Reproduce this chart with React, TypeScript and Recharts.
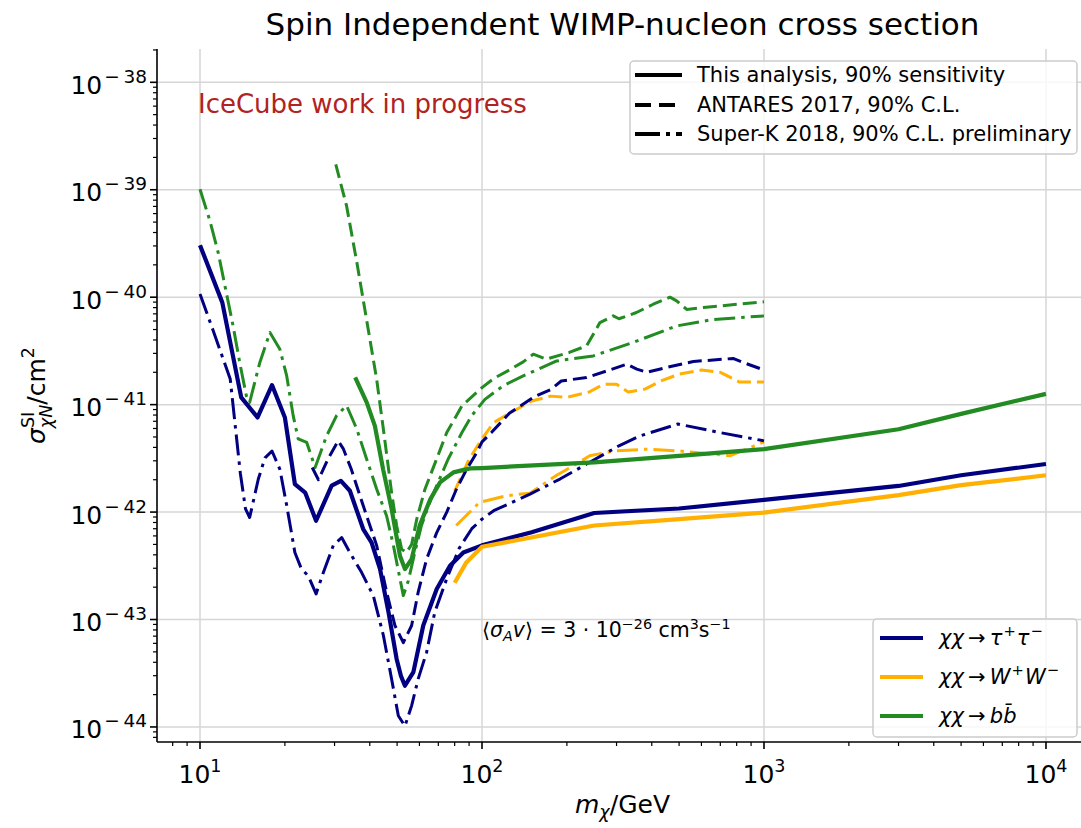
import React from 'react';
import { LineChart, Line, XAxis, YAxis, CartesianGrid } from 'recharts';

// ---------- data (mass in GeV, cross section in cm^2) ----------
const tauSensMass = [10, 12, 14, 16, 18, 20, 21.7, 23.6, 25.8, 29.3, 31.6, 34, 37.9, 40.6, 43.5, 46.6, 49.8, 51.6, 53.3, 57.1, 61.9, 69.1, 77, 85.9, 100, 150, 250, 500, 1000, 3000, 5000, 10000];
const tauSensSigma = [3.05e-40, 8.9e-41, 1.17e-41, 7.6e-42, 1.52e-41, 7.6e-42, 1.82e-42, 1.52e-42, 8.3e-43, 1.76e-42, 1.95e-42, 1.58e-42, 6.95e-43, 5.2e-43, 2.95e-43, 1.17e-43, 4.3e-44, 2.98e-44, 2.42e-44, 3.24e-44, 8.8e-44, 1.92e-43, 3.16e-43, 4.2e-43, 4.9e-43, 6.5e-43, 9.8e-43, 1.08e-42, 1.3e-42, 1.75e-42, 2.2e-42, 2.8e-42];

const tauAntMass = [25, 26.3, 28.4, 30.9, 32.2, 34.4, 37.9, 42.3, 45.9, 49.1, 52.6, 56.3, 59.4, 63.6, 69.1, 75, 81.2, 88.2, 95.9, 100, 108, 125, 152, 176, 191, 235, 277, 326, 354, 385, 452, 562, 777, 843, 1000];
const tauAntSigma = [2.6e-42, 2.0e-42, 3.1e-42, 4.6e-42, 3.9e-42, 2.5e-42, 1.15e-42, 4.9e-43, 1.8e-43, 8.8e-44, 6.1e-44, 8.8e-44, 1.8e-43, 3.65e-43, 6.45e-43, 1.0e-42, 1.64e-42, 2.5e-42, 3.6e-42, 4.5e-42, 5.5e-42, 8.3e-42, 1.17e-41, 1.39e-41, 1.66e-41, 1.79e-41, 2.06e-41, 2.38e-41, 2.14e-41, 2.0e-41, 2.22e-41, 2.52e-41, 2.69e-41, 2.47e-41, 2.1e-41];

const tauSKMass = [10, 11.1, 12.8, 13.9, 14.5, 15, 16.1, 17, 18, 19.2, 20.3, 21.7, 22.9, 24.2, 25.8, 27.4, 29.7, 31.8, 34, 37.4, 41.2, 44.7, 47.8, 50.5, 53.3, 56.3, 59.4, 63.6, 68, 75, 83, 92, 100, 110, 148, 189, 235, 306, 362, 495, 697, 1000];
const tauSKSigma = [1.07e-40, 5.0e-41, 1.73e-41, 2.3e-42, 1.07e-42, 8.9e-43, 2.03e-42, 3.2e-42, 3.7e-42, 2.5e-42, 1.15e-42, 4.2e-43, 2.95e-43, 2.55e-43, 1.73e-43, 2.75e-43, 4.9e-43, 5.8e-43, 4.2e-43, 2.75e-43, 1.66e-43, 7.1e-44, 2.8e-44, 1.27e-44, 1.02e-44, 1.58e-44, 2.8e-44, 4.95e-44, 1.17e-43, 2.4e-43, 4.6e-43, 7.0e-43, 8.6e-43, 1.03e-42, 1.47e-42, 2.03e-42, 2.8e-42, 4.14e-42, 5.1e-42, 6.6e-42, 5.5e-42, 4.6e-42];

const wwSensMass = [80, 88, 100, 250, 500, 1000, 3000, 5000, 10000];
const wwSensSigma = [2.2e-43, 3.4e-43, 4.75e-43, 7.5e-43, 8.6e-43, 9.9e-43, 1.44e-42, 1.78e-42, 2.2e-42];

const wwAntMass = [80, 90, 100, 110, 125, 150, 175, 200, 240, 270, 300, 330, 380, 430, 500, 600, 700, 820, 1000];
const wwAntSigma = [1.57e-42, 3.1e-42, 4.8e-42, 6.8e-42, 8.3e-42, 1.08e-41, 1.2e-41, 1.17e-41, 1.31e-41, 1.55e-41, 1.55e-41, 1.31e-41, 1.4e-41, 1.66e-41, 1.92e-41, 2.1e-41, 2.0e-41, 1.62e-41, 1.62e-41];

const wwSKMass = [81, 98, 122, 148, 184, 211, 241, 292, 383, 504, 660, 756, 867, 1000];
const wwSKSigma = [7.5e-43, 1.23e-42, 1.42e-42, 1.5e-42, 2.2e-42, 2.7e-42, 3.34e-42, 3.7e-42, 3.85e-42, 3.7e-42, 3.46e-42, 3.34e-42, 3.85e-42, 4.5e-42];

const bbSensMass = [35.5, 39, 41.7, 44.6, 47.8, 51.2, 53.3, 56.3, 60.1, 65.6, 71, 79.2, 90.7, 100, 250, 500, 1000, 3000, 5000, 10000];
const bbSensSigma = [1.79e-41, 1.05e-41, 6.35e-42, 2.5e-42, 1.07e-42, 3.9e-43, 2.95e-43, 3.65e-43, 7.5e-43, 1.32e-42, 1.89e-42, 2.34e-42, 2.55e-42, 2.57e-42, 2.9e-42, 3.34e-42, 3.85e-42, 5.9e-42, 8.2e-42, 1.26e-41];

const bbAntMass = [30.3, 33.1, 36, 39.5, 42.3, 44.7, 47.8, 49.8, 51.9, 54, 56.3, 58.7, 62.8, 68.3, 75, 84.9, 100, 110, 125, 140, 152, 169, 204, 235, 262, 292, 306, 353, 405, 464, 490, 532, 610, 800, 1000];
const bbAntSigma = [1.72e-39, 7.06e-40, 2.1e-40, 5.0e-41, 1.73e-41, 5.9e-42, 1.52e-42, 7.5e-43, 4.5e-43, 4.2e-43, 5.0e-43, 8.6e-43, 1.64e-42, 2.9e-42, 5.5e-42, 9.75e-42, 1.44e-41, 1.75e-41, 2.1e-41, 2.5e-41, 2.95e-41, 2.65e-41, 3.06e-41, 3.53e-41, 5.8e-41, 6.7e-41, 6.3e-41, 7.2e-41, 8.6e-41, 1.0e-40, 9.25e-41, 7.7e-41, 8.0e-41, 8.6e-41, 9.05e-41];

const bbSKMass = [10, 10.85, 11.6, 12.4, 13.1, 13.9, 14.6, 15, 16.3, 17.7, 19.2, 20.3, 21.4, 22.3, 23.9, 25.6, 28.1, 30.5, 33.1, 36, 39, 42.3, 45.9, 48.5, 51.2, 52.6, 54.8, 57.5, 61, 65, 69.1, 75.8, 84.9, 92, 102.4, 119, 140, 184, 248, 344, 490, 660, 1000];
const bbSKSigma = [1.01e-39, 5.1e-40, 2.6e-40, 1.1e-40, 5.4e-41, 2.3e-41, 1.21e-41, 1.05e-41, 2.47e-41, 4.7e-41, 3.28e-41, 1.85e-41, 7.9e-42, 4.8e-42, 4.45e-42, 2.6e-42, 5.1e-42, 7.9e-42, 9.8e-42, 5.9e-42, 3.1e-42, 1.64e-42, 9.2e-43, 4.9e-43, 2.38e-43, 1.67e-43, 2.3e-43, 4.0e-43, 7.5e-43, 1.2e-42, 1.76e-42, 3.1e-42, 5.5e-42, 7.9e-42, 1.12e-41, 1.5e-41, 1.85e-41, 2.55e-41, 2.84e-41, 3.8e-41, 5.4e-41, 6.2e-41, 6.7e-41];

// ---------- axes ----------
const xMajor = [10, 100, 1000, 10000];
const xMajorLabels = ['1', '2', '3', '4'];
const yMajor = [1e-44, 1e-43, 1e-42, 1e-41, 1e-40, 1e-39, 1e-38];
const yMajorLabels = ['−\u200944', '−\u200943', '−\u200942', '−\u200941', '−\u200940', '−\u200939', '−\u200938'];

const X_DOMAIN: [number, number] = [Math.pow(10, 0.8475), Math.pow(10, 4.149)];
const Y_DOMAIN: [number, number] = [Math.pow(10, -44.14), Math.pow(10, -37.69)];

const seriesLabels = ['χχ→τ⁺τ⁻', 'χχ→W⁺W⁻', 'χχ→bb̄'];
const styleLabels = ['This analysis, 90% sensitivity', 'ANTARES 2017, 90% C.L.', 'Super-K 2018, 90% C.L. preliminary'];

const NAVY = '#000080';
const ORANGE = '#FFB000';
const GREEN = '#228B22';
const FONT = 'DejaVu Sans';

const DASH = '14 6';
const DASHDOT = '21 6 3.5 6';

function logTicks(domain: [number, number]): number[] {
  const out: number[] = [];
  const lo = Math.floor(Math.log10(domain[0]));
  const hi = Math.ceil(Math.log10(domain[1]));
  for (let e = lo; e <= hi; e++) {
    for (let k = 1; k <= 9; k++) {
      const v = k * Math.pow(10, e);
      if (v >= domain[0] && v <= domain[1]) out.push(v);
    }
  }
  return out;
}
const xTicks = logTicks(X_DOMAIN);
const yTicks = logTicks(Y_DOMAIN);

function majorIndex(majors: number[], v: number): number {
  return majors.findIndex((m) => Math.abs(v / m - 1) < 1e-6);
}

const pts = (ms: number[], ss: number[]) => ms.map((m, i) => ({ m, s: ss[i] }));

const XTick = (props: any) => {
  const { x, y, payload } = props;
  const idx = majorIndex(xMajor, payload.value);
  const major = idx >= 0;
  return (
    <g>
      <line x1={x} x2={x} y1={y} y2={y + (major ? 7 : 4)} stroke="#000" strokeWidth={major ? 1.6 : 1.2} />
      {major && (
        <text x={x} y={y + 41} textAnchor="middle" fontFamily={FONT} fontSize={25} fill="#000">
          10<tspan dy={-11} fontSize={17.5}>{xMajorLabels[idx]}</tspan>
        </text>
      )}
    </g>
  );
};

const YTick = (props: any) => {
  const { x, y, payload } = props;
  const idx = majorIndex(yMajor, payload.value);
  const major = idx >= 0;
  return (
    <g>
      <line x1={x - (major ? 7 : 4)} x2={x} y1={y} y2={y} stroke="#000" strokeWidth={major ? 1.6 : 1.2} />
      {major && (
        <text x={x - 10} y={y + 11.5} textAnchor="end" fontFamily={FONT} fontSize={25} fill="#000">
          10<tspan dx={2} dy={-11} fontSize={18.5}>{yMajorLabels[idx]}</tspan>
        </text>
      )}
    </g>
  );
};

const lineCommon = { type: 'linear' as const, dataKey: 's', dot: false, activeDot: false, isAnimationActive: false, strokeLinejoin: 'round' as const };

export default function App() {
  const sup = 14.7;
  return (
    <div style={{ position: 'absolute', left: 0, top: 0, width: 1081, height: 828, overflow: 'hidden', background: '#fff' }}>
      <LineChart width={1089} height={828} margin={{ top: 49, right: 1, left: 0, bottom: 0 }}>
        <CartesianGrid horizontalValues={yMajor} verticalValues={xMajor} stroke="#d6d6d6" strokeWidth={1.5} />
        <XAxis dataKey="m" type="number" scale="log" domain={X_DOMAIN} allowDataOverflow ticks={xTicks} interval={0}
          tickSize={0} tickMargin={0} tickLine={false} tick={(p: any) => <XTick {...p} />} height={86}
          axisLine={{ stroke: '#000', strokeWidth: 1.6 }} />
        <XAxis xAxisId="top" orientation="top" dataKey="m" type="number" scale="log" domain={X_DOMAIN} allowDataOverflow
          tick={false} tickLine={false} height={0} axisLine={{ stroke: '#000', strokeWidth: 1.6 }} />
        <YAxis type="number" scale="log" domain={Y_DOMAIN} allowDataOverflow ticks={yTicks} interval={0}
          tickSize={0} tickMargin={0} tickLine={false} tick={(p: any) => <YTick {...p} />} width={157}
          axisLine={{ stroke: '#000', strokeWidth: 1.6 }} />
        <YAxis yAxisId="right" orientation="right" type="number" scale="log" domain={Y_DOMAIN} allowDataOverflow
          tick={false} tickLine={false} width={0} axisLine={{ stroke: '#000', strokeWidth: 1.6 }} />

        <Line {...lineCommon} data={pts(bbAntMass, bbAntSigma)} stroke={GREEN} strokeWidth={3} strokeDasharray={DASH} />
        <Line {...lineCommon} data={pts(bbSKMass, bbSKSigma)} stroke={GREEN} strokeWidth={3} strokeDasharray={DASHDOT} />
        <Line {...lineCommon} data={pts(wwAntMass, wwAntSigma)} stroke={ORANGE} strokeWidth={3} strokeDasharray={DASH} />
        <Line {...lineCommon} data={pts(wwSKMass, wwSKSigma)} stroke={ORANGE} strokeWidth={3} strokeDasharray={DASHDOT} />
        <Line {...lineCommon} data={pts(tauAntMass, tauAntSigma)} stroke={NAVY} strokeWidth={3} strokeDasharray={DASH} />
        <Line {...lineCommon} data={pts(tauSKMass, tauSKSigma)} stroke={NAVY} strokeWidth={3} strokeDasharray={DASHDOT} />
        <Line {...lineCommon} data={pts(tauSensMass, tauSensSigma)} stroke={NAVY} strokeWidth={4.2} />
        <Line {...lineCommon} data={pts(wwSensMass, wwSensSigma)} stroke={ORANGE} strokeWidth={4.2} />
        <Line {...lineCommon} data={pts(bbSensMass, bbSensSigma)} stroke={GREEN} strokeWidth={4.2} />
      </LineChart>

      <svg width={1081} height={828} style={{ position: 'absolute', left: 0, top: 0, pointerEvents: 'none' }} fontFamily={FONT}>
        <text x={622.5} y={35} textAnchor="middle" fontSize={31} fill="#000">Spin Independent WIMP-nucleon cross section</text>
        <text x={198} y={113} fontSize={26} fill="#b22222">IceCube work in progress</text>

        {/* annotation */}
        <text x={482} y={637} fontSize={20.5} fill="#000">
          ⟨<tspan fontStyle="italic">σ</tspan>
          <tspan fontStyle="italic" fontSize={14.3} dy={4}>A</tspan>
          <tspan fontStyle="italic" dy={-4}>v</tspan>
          <tspan>{'⟩\u00A0=\u00A03\u00A0·\u00A010'}</tspan>
          <tspan fontSize={14.3} dy={-8}>−26</tspan>
          <tspan dy={8}>{'\u00A0cm'}</tspan>
          <tspan fontSize={14.3} dy={-8}>3</tspan>
          <tspan dy={8}>s</tspan>
          <tspan fontSize={14.3} dy={-8}>−1</tspan>
        </text>

        {/* y label */}
        <text transform="translate(45,395.5) rotate(-90)" textAnchor="middle" fontSize={25} fill="#000">
          <tspan fontStyle="italic">σ</tspan>
          <tspan fontSize={17.5} dy={-11}>SI</tspan>
          <tspan fontSize={17.5} fontStyle="italic" dx={-16.3} dy={18}>χN</tspan>
          <tspan dy={-7}>/cm</tspan>
          <tspan fontSize={17.5} dy={-11}>2</tspan>
        </text>

        {/* x label */}
        <text x={622.5} y={813} textAnchor="middle" fontSize={25} fill="#000">
          <tspan fontStyle="italic">m</tspan>
          <tspan fontStyle="italic" fontSize={17.5} dy={5}>χ</tspan>
          <tspan dy={-5}>/GeV</tspan>
        </text>

        {/* style legend */}
        <rect x={630} y={61} width={447} height={93} rx={4} fill="#fff" fillOpacity={0.8} stroke="#cccccc" strokeWidth={1.5} />
        <line x1={635} x2={682} y1={75} y2={75} stroke="#000" strokeWidth={4} />
        <line x1={635} x2={682} y1={105} y2={105} stroke="#000" strokeWidth={4} strokeDasharray="16 8" />
        <line x1={635} x2={682} y1={134} y2={134} stroke="#000" strokeWidth={4} strokeDasharray="25 6 4 6" />
        <text x={697} y={82} fontSize={21} fill="#000">{styleLabels[0]}</text>
        <text x={697} y={112} fontSize={21} fill="#000">{styleLabels[1]}</text>
        <text x={697} y={141} fontSize={21} fill="#000">{styleLabels[2]}</text>

        {/* channel legend */}
        <rect x={873} y={619} width={204} height={118} rx={4} fill="#fff" fillOpacity={0.8} stroke="#cccccc" strokeWidth={1.5} />
        <line x1={880} x2={923} y1={638} y2={638} stroke={NAVY} strokeWidth={4} />
        <line x1={880} x2={923} y1={677} y2={677} stroke={ORANGE} strokeWidth={4} />
        <line x1={880} x2={923} y1={716} y2={716} stroke={GREEN} strokeWidth={4} />
        <text x={939} y={645} fontSize={21} fill="#000" aria-label={seriesLabels[0]}>
          <tspan fontStyle="italic">χχ</tspan>
          <tspan>{'\u2009→\u2009'}</tspan>
          <tspan fontStyle="italic">τ</tspan>
          <tspan fontSize={sup} dx={1} dy={-9}>+</tspan>
          <tspan fontStyle="italic" dx={1} dy={9}>τ</tspan>
          <tspan fontSize={sup} dx={1} dy={-9}>−</tspan>
        </text>
        <text x={939} y={684} fontSize={21} fill="#000" aria-label={seriesLabels[1]}>
          <tspan fontStyle="italic">χχ</tspan>
          <tspan>{'\u2009→\u2009'}</tspan>
          <tspan fontStyle="italic">W</tspan>
          <tspan fontSize={sup} dx={1} dy={-9}>+</tspan>
          <tspan fontStyle="italic" dx={1} dy={9}>W</tspan>
          <tspan fontSize={sup} dx={1} dy={-9}>−</tspan>
        </text>
        <text x={939} y={723} fontSize={21} fill="#000" aria-label={seriesLabels[2]}>
          <tspan fontStyle="italic">χχ</tspan>
          <tspan>{'\u2009→\u2009'}</tspan>
          <tspan fontStyle="italic">{'bb\u0304'}</tspan>
        </text>
      </svg>
    </div>
  );
}
